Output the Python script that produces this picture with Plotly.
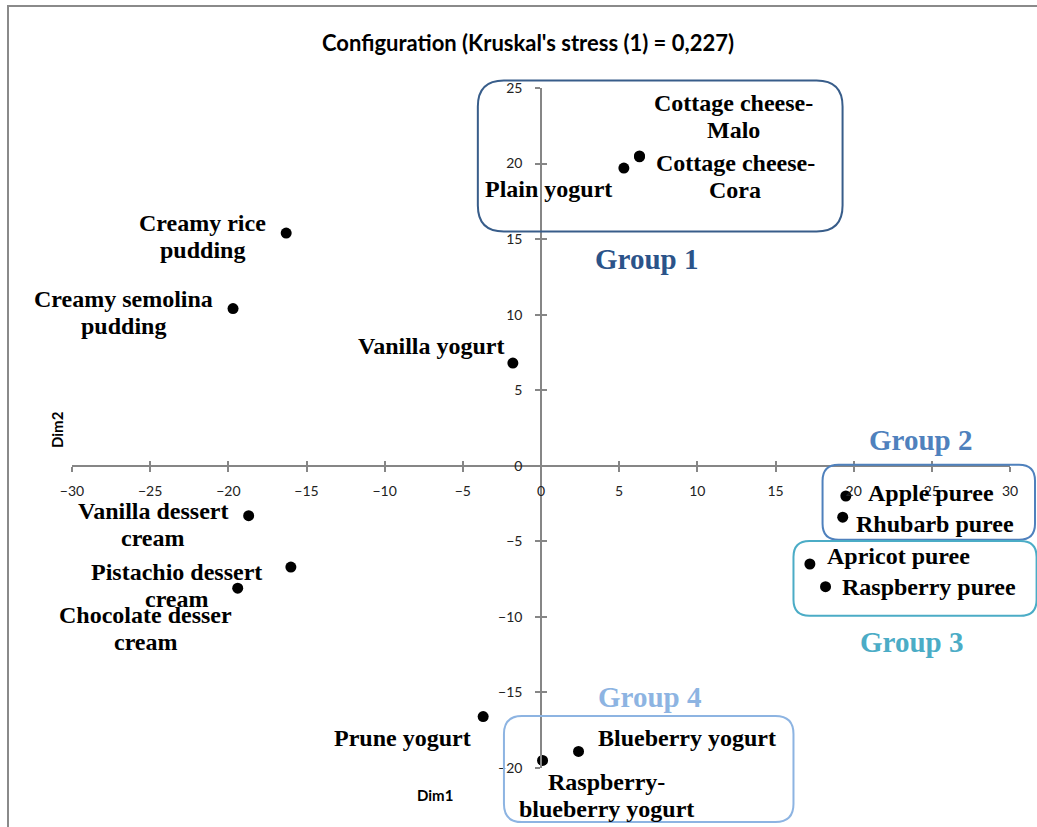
import plotly.graph_objects as go

# ---------------- data ----------------
names = [
    "Plain yogurt", "Cottage cheese-<br>Malo", "Cottage cheese-<br>Cora",
    "Creamy rice<br>pudding", "Creamy semolina<br>pudding", "Vanilla yogurt",
    "Vanilla dessert<br>cream", "Pistachio dessert<br>cream", "Chocolate desser<br>cream",
    "Prune yogurt", "Blueberry yogurt", "Raspberry-<br>blueberry yogurt",
    "Apple puree", "Rhubarb puree", "Apricot puree", "Raspberry puree",
]
dim1 = [5.3, 6.3, 6.3, -16.3, -19.7, -1.8, -18.7, -16.0, -19.4, -3.7, 2.4, 0.1,
        19.5, 19.3, 17.2, 18.2]
dim2 = [19.7, 20.5, 20.45, 15.4, 10.4, 6.8, -3.3, -6.7, -8.1, -16.6, -18.9, -19.5,
        -2.0, -3.4, -6.5, -8.0]

group_names = ["Group 1", "Group 2", "Group 3", "Group 4"]
group_colors = ["#2B5389", "#4F81BD", "#4BACC6", "#8DB4E2"]
group_box_colors = ["#385D8A", "#4F81BD", "#4BACC6", "#8DB4E2"]
# box extents in data units: x0, x1, y0, y1
group_boxes = [(-4.04, 19.29, 15.5, 25.5), (18.01, 31.6, -4.9, 0.07),
               (16.15, 31.7, -9.93, -4.97), (-2.37, 16.15, -23.58, -16.56)]
group_label_xy = [(6.73, 13.7), (24.3, 1.72), (23.7, -11.66), (6.92, -15.3)]

x_range = [-30, 30]
y_range = [-20, 25]

# ---------------- label placement (pixel offsets from point) ----------------
label_place = [
    # xanchor, xshift, yshift
    ("right", -10, -21),
    ("center", 94, 40),
    ("center", 96, -20),
    ("center", -84, -3),
    ("center", -110, -4),
    ("right", -7, 17),
    ("center", -96, -9),
    ("center", -114, -18),
    ("center", -92, -40),
    ("right", -10, -21),
    ("left", 17, 13),
    ("center", 64, -35),
    ("left", 20, 3),
    ("left", 11, -7),
    ("left", 15, 8),
    ("left", 14, 0),
]
LINE_GAP = 27

W, H = 1037, 827
ML, MR, MT, MB = 72, 27, 88, 59
PW, PH = W - ML - MR, H - MT - MB

def to_paper(x, y):
    return ((x - x_range[0]) / (x_range[1] - x_range[0]),
            (y - y_range[0]) / (y_range[1] - y_range[0]))

def rounded_rect(x0, x1, y0, y1, rpx):
    (px0, py0), (px1, py1) = to_paper(x0, y0), to_paper(x1, y1)
    rx, ry = rpx / PW, rpx / PH
    return (f"M {px0+rx},{py0} L {px1-rx},{py0} Q {px1},{py0} {px1},{py0+ry} "
            f"L {px1},{py1-ry} Q {px1},{py1} {px1-rx},{py1} L {px0+rx},{py1} "
            f"Q {px0},{py1} {px0},{py1-ry} L {px0},{py0+ry} Q {px0},{py0} {px0+rx},{py0} Z")

fig = go.Figure()
fig.add_trace(go.Scatter(
    x=dim1, y=dim2, mode="markers",
    marker=dict(color="black", size=11),
    showlegend=False, cliponaxis=False, hoverinfo="skip",
))
# invisible trace for the overlay axes (cross ticks)
fig.add_trace(go.Scatter(x=[None], y=[None], xaxis="x2", yaxis="y2",
                         showlegend=False, hoverinfo="skip"))

label_font = dict(family="Liberation Serif", size=24, color="black")
annotations = []
for n, x, y, (xa, dx, dy) in zip(names, dim1, dim2, label_place):
    lines = n.split("<br>")
    k = len(lines)
    for i, line in enumerate(lines):
        annotations.append(dict(
            x=x, y=y, xref="x", yref="y", text=f"<b>{line}</b>", showarrow=False,
            xanchor=xa, yanchor="middle", xshift=dx,
            yshift=dy + (k - 1) / 2 * LINE_GAP - i * LINE_GAP,
            font=label_font,
        ))
for g, c, (gx, gy) in zip(group_names, group_colors, group_label_xy):
    annotations.append(dict(
        x=gx, y=gy, xref="x", yref="y", text=f"<b>{g}</b>", showarrow=False,
        xanchor="center", yanchor="middle",
        font=dict(family="Liberation Serif", size=29, color=c),
    ))
annotations.append(dict(
    x=(435 - ML) / PW, y=(H - MB - 795) / PH, xref="paper", yref="paper",
    text="<b>Dim1</b>", showarrow=False, xanchor="center", yanchor="middle",
    font=dict(family="Lato", size=15, color="black"),
))
annotations.append(dict(
    x=(57 - ML) / PW, y=(H - MB - 430) / PH, xref="paper", yref="paper",
    text="<b>Dim2</b>", showarrow=False, xanchor="center", yanchor="middle",
    textangle=-90, font=dict(family="Lato", size=15, color="black"),
))

shapes = []
for (x0, x1, y0, y1), c, r in zip(group_boxes, group_box_colors, [26, 16, 16, 18]):
    shapes.append(dict(type="path", xref="paper", yref="paper",
                       path=rounded_rect(x0, x1, y0, y1, r),
                       line=dict(color=c, width=2), layer="above"))
# outer chart frame
shapes.append(dict(type="rect", xref="paper", yref="paper",
                   x0=(8 - ML) / PW, x1=(1045 - ML) / PW,
                   y0=(H - MB - 840) / PH, y1=(H - MB - 6) / PH,
                   line=dict(color="#8A8A8A", width=2), layer="below"))

axis_color = "#868686"
tick_font = dict(family="Lato", size=14, color="#222222")
xpos = (0 - y_range[0]) / (y_range[1] - y_range[0])
ypos = (0 - x_range[0]) / (x_range[1] - x_range[0])

fig.update_layout(
    width=W, height=H,
    margin=dict(l=ML, r=MR, t=MT, b=MB),
    paper_bgcolor="white", plot_bgcolor="white",
    title=dict(text="<b>Configuration (Kruskal's stress (1) = 0,227)</b>",
               x=528 / W, y=1 - 43 / H, xref="container", yref="container",
               xanchor="center", yanchor="middle",
               font=dict(family="Lato", size=22, color="black")),
    xaxis=dict(range=x_range, dtick=5, tick0=0, showgrid=False, zeroline=False,
               showline=True, linecolor=axis_color, linewidth=1.5,
               ticks="outside", ticklen=5, tickcolor=axis_color, tickwidth=1.5,
               anchor="free", position=xpos, tickfont=tick_font,
               ticklabelstandoff=8),
    yaxis=dict(range=y_range, dtick=5, tick0=0, showgrid=False, zeroline=False,
               showline=True, linecolor=axis_color, linewidth=1.5,
               ticks="outside", ticklen=5, tickcolor=axis_color, tickwidth=1.5,
               anchor="free", position=ypos, tickfont=tick_font,
               ticklabelstandoff=10),
    xaxis2=dict(range=x_range, dtick=5, tick0=0, showgrid=False, zeroline=False,
                showline=False, ticks="inside", ticklen=5, tickcolor=axis_color,
                tickwidth=1.5, showticklabels=False, overlaying="x",
                anchor="free", position=xpos),
    yaxis2=dict(range=y_range, dtick=5, tick0=0, showgrid=False, zeroline=False,
                showline=False, ticks="inside", ticklen=5, tickcolor=axis_color,
                tickwidth=1.5, showticklabels=False, overlaying="y",
                anchor="free", position=ypos),
    annotations=annotations,
    shapes=shapes,
    showlegend=False,
)

fig.write_html(
    "out.html",
    config={"displayModeBar": False},
    post_script="document.body.style.margin='0';document.body.style.overflow='hidden';",
)
